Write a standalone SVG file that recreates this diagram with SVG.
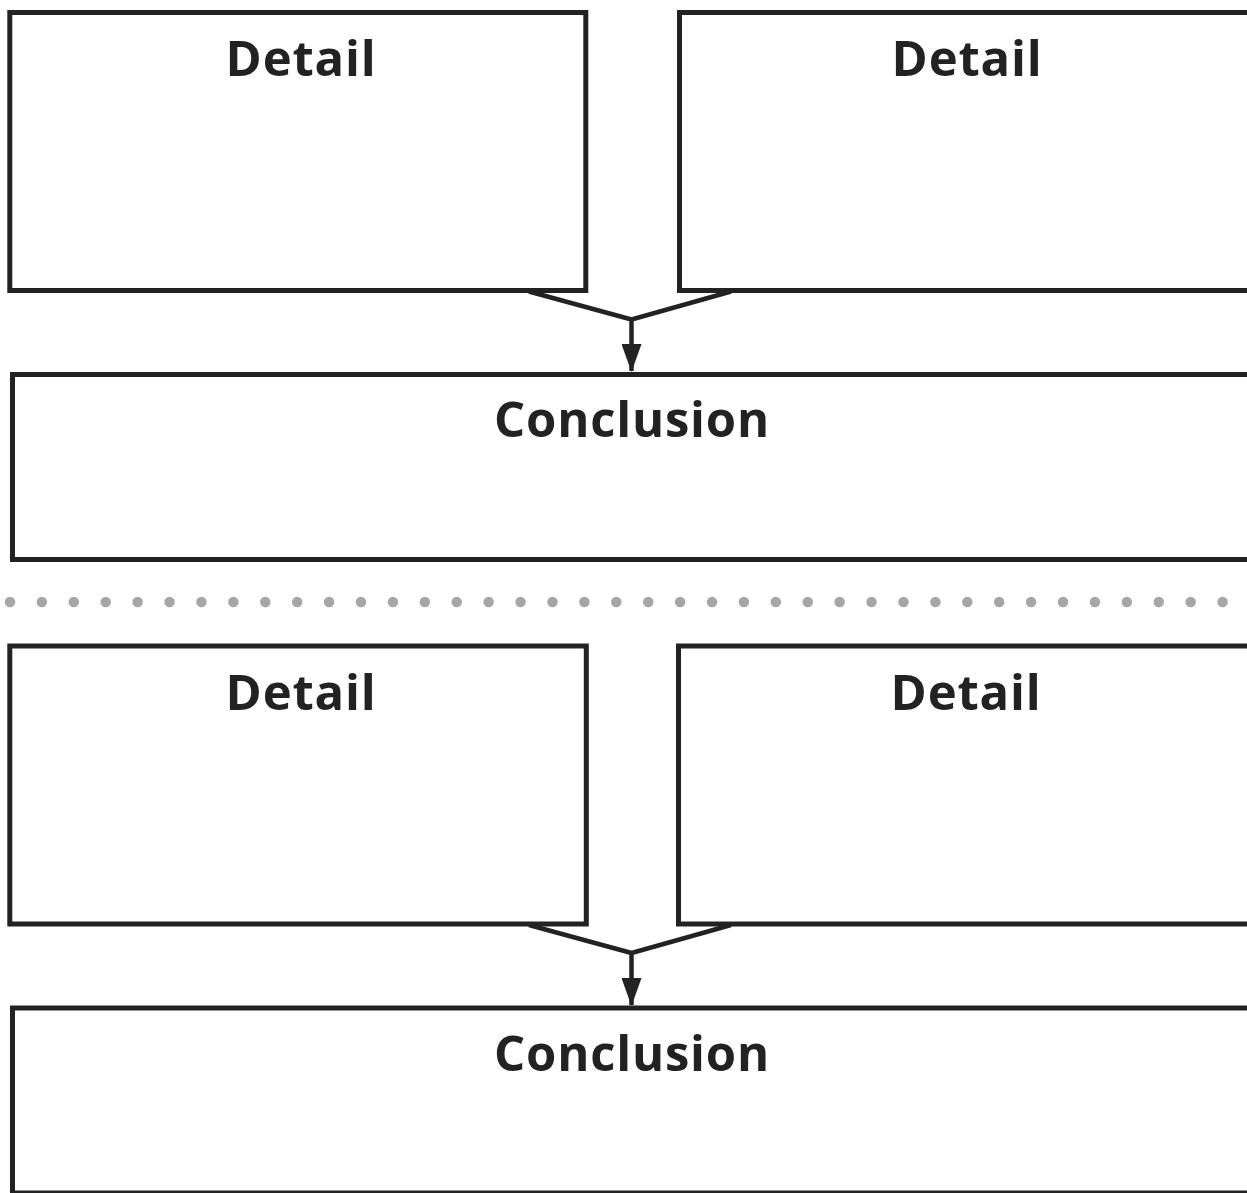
<svg xmlns="http://www.w3.org/2000/svg" width="1247" height="1193" viewBox="0 0 1247 1193">
  <style>
    .box { fill: #ffffff; stroke: #222222; stroke-width: 5; }
    .lbl { font-family: "Open Sans", "Liberation Sans", sans-serif; font-weight: 700; font-size: 49px; letter-spacing: 0.8px; fill: #222222; text-anchor: middle; }
    .conn { fill: none; stroke: #222222; stroke-width: 4.5; stroke-linejoin: miter; }
    .dots { stroke: #a6a6a6; stroke-width: 10.5; stroke-linecap: round; stroke-dasharray: 0 31.91; fill: none; }
  </style>
  <defs>
    <marker id="arrow" markerUnits="userSpaceOnUse" viewBox="0 0 28 20" refX="27" refY="10" markerWidth="28" markerHeight="20" orient="auto">
      <path d="M0,0 L28,10 L0,20 Z" fill="#222222"/>
    </marker>
  </defs>
  <rect width="1247" height="1193" fill="#ffffff"/>

  <g id="detail-1">
    <rect class="box" x="9.8" y="12.5" width="576" height="278"/>
    <text class="lbl" x="301" y="76">Detail</text>
  </g>
  <g id="detail-2">
    <rect class="box" x="679.5" y="12.5" width="600" height="278"/>
    <text class="lbl" x="967" y="76">Detail</text>
  </g>
  <g id="conclusion-1">
    <rect class="box" x="12.5" y="374.5" width="1270" height="185"/>
    <text class="lbl" x="632" y="437">Conclusion</text>
  </g>

  <g id="separator">
    <line class="dots" x1="10" y1="602" x2="1240" y2="602"/>
  </g>

  <g id="detail-3">
    <rect class="box" x="9.8" y="646" width="576.5" height="278"/>
    <text class="lbl" x="301" y="709.5">Detail</text>
  </g>
  <g id="detail-4">
    <rect class="box" x="678.5" y="646" width="600" height="278"/>
    <text class="lbl" x="966" y="709.5">Detail</text>
  </g>
  <g id="conclusion-2">
    <rect class="box" x="12.5" y="1008" width="1270" height="185"/>
    <text class="lbl" x="632" y="1070.5">Conclusion</text>
  </g>

  <g id="connectors">
    <path class="conn" d="M529,291.5 L631.5,319.5 M731,291.5 L631.5,319.5 L631.5,371" marker-end="url(#arrow)"/>
    <path class="conn" d="M529,925 L631.5,953 M731,925 L631.5,953 L631.5,1005" marker-end="url(#arrow)"/>
  </g>
</svg>
